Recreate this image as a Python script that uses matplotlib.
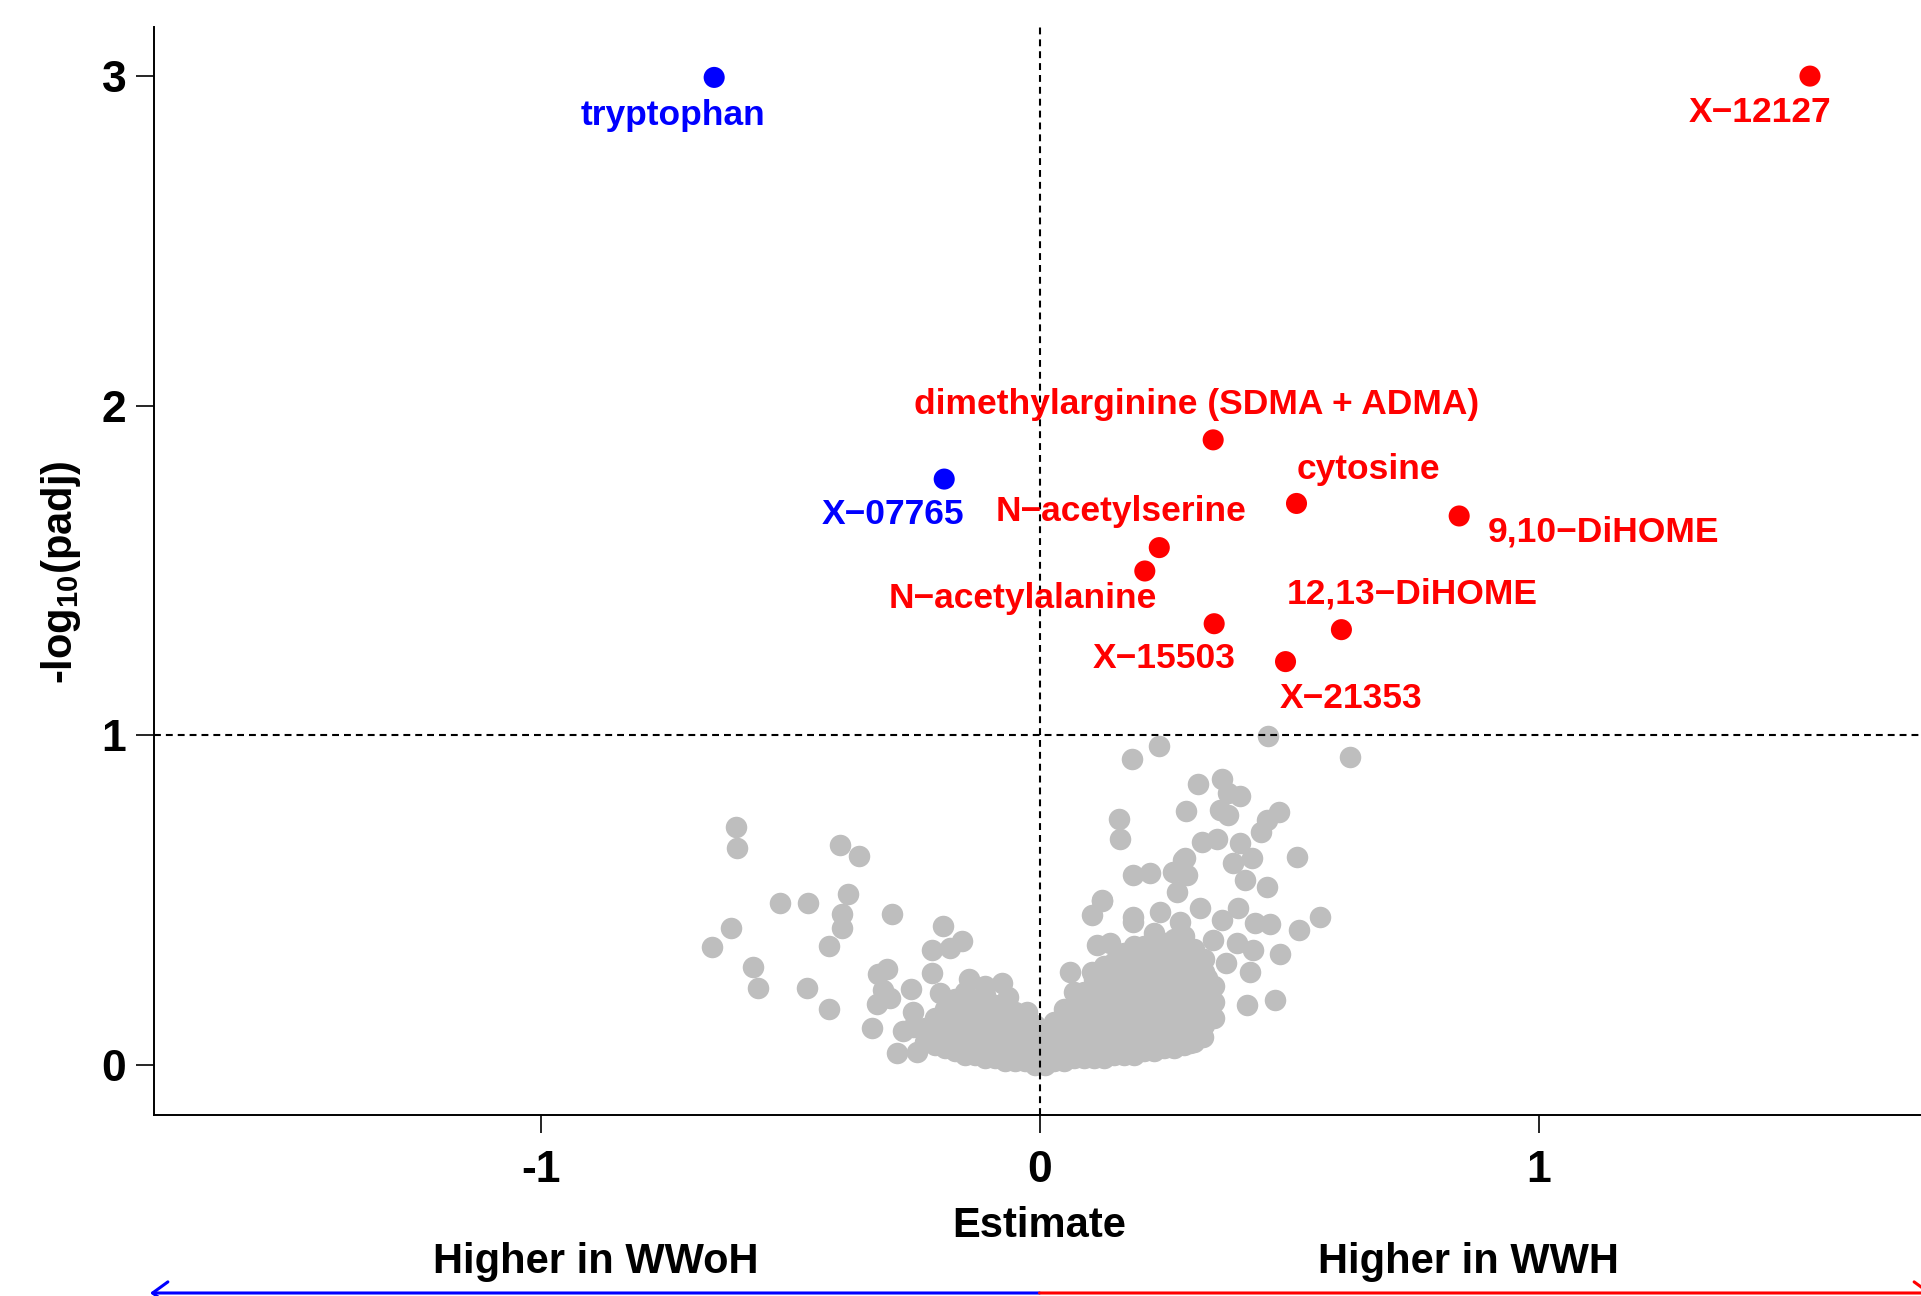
import numpy as np
import matplotlib
matplotlib.use("Agg")
import matplotlib.pyplot as plt

plt.rcParams['font.family'] = ['Liberation Sans', 'DejaVu Sans']
plt.rcParams['font.weight'] = 'bold'
plt.rcParams['mathtext.fontset'] = 'custom'
plt.rcParams['mathtext.rm'] = 'Liberation Sans:bold'
plt.rcParams['mathtext.it'] = 'Liberation Sans:bold'
plt.rcParams['mathtext.bf'] = 'Liberation Sans:bold'

# significant metabolites (estimate, -log10 padj), label position
sig_names = ["tryptophan", "X\u221207765", "X\u221212127", "dimethylarginine (SDMA + ADMA)",
             "cytosine", "9,10\u2212DiHOME", "N\u2212acetylserine", "N\u2212acetylalanine",
             "12,13\u2212DiHOME", "X\u221215503", "X\u221221353"]
sig_x = [-0.652, -0.191, 1.544, 0.348, 0.515, 0.841, 0.240, 0.211, 0.605, 0.350, 0.493]
sig_y = [2.996, 1.777, 3.000, 1.896, 1.703, 1.665, 1.569, 1.498, 1.320, 1.338, 1.223]
sig_col = ["blue", "blue", "red", "red", "red", "red", "red", "red", "red", "red", "red"]
lab_x = [-0.735, -0.294, 1.444, 0.315, 0.659, 1.130, 0.163, -0.033, 0.747, 0.249, 0.625]
lab_y = [2.881, 1.669, 2.889, 2.004, 1.807, 1.617, 1.680, 1.416, 1.428, 1.231, 1.112]

# non significant, scattered points
ns_x = [-0.608, -0.607, -0.400, -0.362, -0.384, -0.520, -0.464, -0.395, -0.395, -0.295,
        -0.619, -0.656, -0.422, -0.575, -0.565, -0.466, -0.422, -0.323, -0.306, -0.313,
        -0.300, -0.326, -0.258, -0.336, -0.274, -0.286, -0.253, -0.193, -0.156, -0.179,
        -0.215, -0.216, -0.141, -0.109, -0.075, -0.063, -0.199, -0.026, -0.253, -0.246,
        0.185, 0.240, 0.160, 0.161, 0.187, 0.221, 0.288, 0.268, 0.126, 0.105,
        0.188, 0.241, 0.061, 0.105, 0.141, 0.125, 0.187, 0.107, 0.115,
        0.458, 0.622, 0.318, 0.365, 0.402, 0.378, 0.294, 0.362, 0.378, 0.479,
        0.455, 0.444, 0.326, 0.355, 0.402, 0.515, 0.292, 0.388, 0.425, 0.295,
        0.412, 0.455, 0.275, 0.322, 0.398, 0.365, 0.432, 0.462, 0.562, 0.519,
        0.282, 0.348, 0.395, 0.428, 0.481, 0.374, 0.422, 0.335, 0.415, 0.472,
        0.335, 0.328, 0.302]
ns_y = [0.722, 0.657, 0.665, 0.632, 0.517, 0.490, 0.489, 0.456, 0.416, 0.457,
        0.414, 0.356, 0.359, 0.297, 0.232, 0.232, 0.170, 0.275, 0.290, 0.227,
        0.202, 0.184, 0.230, 0.110, 0.103, 0.035, 0.161, 0.422, 0.375, 0.353,
        0.348, 0.277, 0.260, 0.237, 0.247, 0.206, 0.217, 0.161, 0.115, 0.039,
        0.928, 0.968, 0.745, 0.685, 0.576, 0.581, 0.621, 0.586, 0.495, 0.454,
        0.449, 0.464, 0.282, 0.282, 0.368, 0.498, 0.434, 0.278, 0.363,
        0.997, 0.935, 0.852, 0.867, 0.815, 0.824, 0.770, 0.773, 0.758, 0.768,
        0.743, 0.705, 0.677, 0.685, 0.672, 0.631, 0.626, 0.613, 0.626, 0.576,
        0.561, 0.538, 0.525, 0.475, 0.475, 0.439, 0.431, 0.427, 0.449, 0.407,
        0.434, 0.378, 0.368, 0.348, 0.336, 0.308, 0.282, 0.262, 0.181, 0.196,
        0.166, 0.085, 0.065]

# dense core of the volcano, read column by column
core_x = [-0.23, -0.21, -0.19, -0.17, -0.15, -0.13, -0.11, -0.09, -0.07, -0.05, -0.03, -0.01,
          0.01, 0.03, 0.05, 0.07, 0.09, 0.11, 0.13, 0.15, 0.17, 0.19, 0.21, 0.23,
          0.25, 0.27, 0.29, 0.31, 0.33, 0.35]
core_y = [
    [0.07, 0.11],
    [0.06, 0.10, 0.14],
    [0.05, 0.09, 0.13, 0.17],
    [0.04, 0.08, 0.12, 0.16, 0.20],
    [0.03, 0.07, 0.11, 0.15, 0.19, 0.22],
    [0.03, 0.07, 0.11, 0.15, 0.19],
    [0.02, 0.06, 0.10, 0.14, 0.18, 0.21],
    [0.02, 0.06, 0.10, 0.14, 0.18],
    [0.01, 0.05, 0.09, 0.13, 0.17],
    [0.01, 0.05, 0.09, 0.13, 0.16],
    [0.01, 0.05, 0.09, 0.13],
    [0.00, 0.04, 0.08, 0.12],
    [0.00, 0.04, 0.08],
    [0.01, 0.05, 0.09, 0.13],
    [0.01, 0.05, 0.09, 0.13, 0.17],
    [0.02, 0.06, 0.10, 0.14, 0.18, 0.22],
    [0.02, 0.06, 0.10, 0.14, 0.18, 0.22],
    [0.02, 0.06, 0.10, 0.14, 0.18, 0.22, 0.26],
    [0.02, 0.07, 0.11, 0.15, 0.19, 0.23, 0.27, 0.30],
    [0.03, 0.07, 0.11, 0.15, 0.19, 0.23, 0.27, 0.31],
    [0.03, 0.07, 0.11, 0.15, 0.19, 0.23, 0.27, 0.31, 0.34],
    [0.03, 0.08, 0.12, 0.16, 0.20, 0.24, 0.28, 0.32, 0.36],
    [0.04, 0.08, 0.12, 0.16, 0.20, 0.24, 0.28, 0.32, 0.36],
    [0.04, 0.08, 0.12, 0.16, 0.20, 0.24, 0.28, 0.32, 0.37, 0.40],
    [0.05, 0.09, 0.13, 0.17, 0.21, 0.25, 0.29, 0.33, 0.37],
    [0.05, 0.09, 0.13, 0.17, 0.21, 0.25, 0.29, 0.33, 0.38],
    [0.06, 0.10, 0.14, 0.18, 0.22, 0.26, 0.30, 0.34, 0.39],
    [0.07, 0.11, 0.15, 0.19, 0.23, 0.27, 0.31, 0.35],
    [0.12, 0.16, 0.20, 0.24, 0.28, 0.32],
    [0.14, 0.19, 0.24],
]

xticks = [-1, 0, 1]
yticks = [0, 1, 2, 3]

W, H = 1921, 1296
fig = plt.figure(figsize=(W / 100, H / 100), dpi=100)
ax = fig.add_axes([153.5 / W, 1 - 1115 / H, 1 - 153.5 / W, (1115 - 27) / H])

gx = list(ns_x)
gy = list(ns_y)
for cx, ys in zip(core_x, core_y):
    for cy in ys:
        gx.append(cx)
        gy.append(cy)

ax.scatter(gx, gy, s=240, color="#BEBEBE", linewidths=0, zorder=2)
ax.scatter(sig_x, sig_y, s=230, c=sig_col, linewidths=0, zorder=4)

for name, x, y, c in zip(sig_names, lab_x, lab_y, sig_col):
    ax.text(x, y, name, color=c, fontsize=25.5, fontweight="bold",
            ha="center", va="center", zorder=5)

ax.axhline(1, color="black", lw=1.5, ls=(0, (3.3, 2.4)), zorder=3)
ax.axvline(0, color="black", lw=1.5, ls=(0, (3.3, 2.4)), zorder=3)

ax.set_xlim(-1.7756, 1.7665)
ax.set_ylim(-0.153, 3.149)
ax.set_xticks(xticks)
ax.set_xticklabels([str(t) for t in xticks])
ax.set_yticks(yticks)
ax.set_yticklabels([str(t) for t in yticks])
ax.tick_params(labelsize=32, length=13, width=1.2, pad=6.5)
ax.tick_params(axis="x", pad=12)
for t in ax.get_xticklabels() + ax.get_yticklabels():
    t.set_fontweight("bold")
ax.spines["top"].set_visible(False)
ax.spines["right"].set_visible(False)
ax.spines["left"].set_linewidth(1.4)
ax.spines["bottom"].set_linewidth(1.4)

fig.text(1039.5 / W, 1 - 1226 / H, "Estimate", fontsize=30, fontweight="bold",
         ha="center", va="center")
fig.text(61 / W, 1 - 572 / H, "-log$_{10}$(padj)", fontsize=30, fontweight="bold",
         ha="center", va="center", rotation=90)
fig.text(596 / W, 1 - 1262 / H, "Higher in WWoH", fontsize=30, fontweight="bold",
         ha="center", va="center")
fig.text(1468 / W, 1 - 1262 / H, "Higher in WWH", fontsize=30, fontweight="bold",
         ha="center", va="center")

arrow_y = H - 1293
fig.patches  # keep arrows in figure pixels
ax.annotate("", xy=(150, arrow_y), xytext=(1039.5, arrow_y), xycoords="figure pixels",
            textcoords="figure pixels", annotation_clip=False,
            arrowprops=dict(arrowstyle="->,head_length=0.55,head_width=0.4", color="blue",
                            lw=2.2, mutation_scale=20, shrinkA=0, shrinkB=0))
ax.annotate("", xy=(1932, arrow_y), xytext=(1039.5, arrow_y), xycoords="figure pixels",
            textcoords="figure pixels", annotation_clip=False,
            arrowprops=dict(arrowstyle="->,head_length=0.55,head_width=0.4", color="red",
                            lw=2.2, mutation_scale=20, shrinkA=0, shrinkB=0))

fig.savefig("out.png", dpi=100)
